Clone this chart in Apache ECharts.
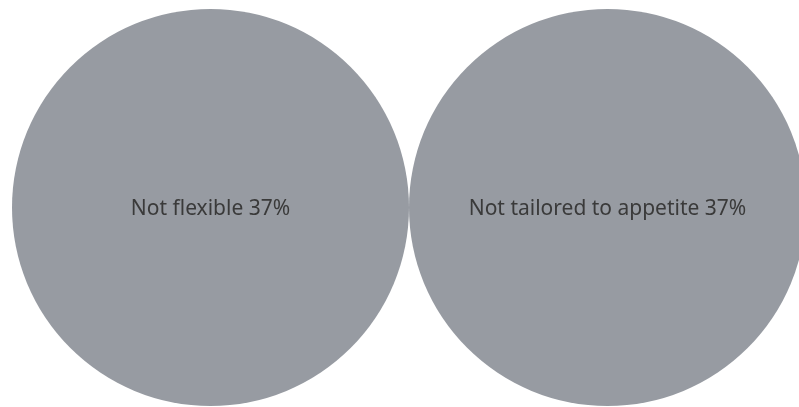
<!DOCTYPE html>
<html>
<head>
<meta charset="utf-8">
<style>
  html, body { margin: 0; padding: 0; background: #ffffff; overflow: hidden; }
  #chart { width: 799px; height: 407px; }
</style>
<script src="https://cdn.jsdelivr.net/npm/echarts@6/dist/echarts.min.js"></script>
</head>
<body>
<div id="chart"></div>
<script>
// Reasons and their shares (percent)
const categories = ['Not flexible', 'Not tailored to appetite'];
const shares = [37, 37];

// Bubble diameter in pixels per percentage point
const PX_PER_POINT = 397 / 37;

const chart = echarts.init(document.getElementById('chart'), null, { renderer: 'canvas' });

chart.setOption({
  animation: false,
  backgroundColor: '#ffffff',
  // The second bubble runs past the right edge, so the grid is allowed to as well
  grid: { left: 12, top: 9, width: 794, height: 397, containLabel: false, outerBoundsMode: 'none' },
  xAxis: {
    type: 'category',
    data: categories,
    boundaryGap: true,
    show: false
  },
  yAxis: { type: 'value', min: -1, max: 1, show: false },
  series: [{
    type: 'scatter',
    clip: false,
    data: categories.map((c, i) => ({ name: c, value: [c, 0, shares[i]] })),
    symbol: 'circle',
    symbolSize: v => v[2] * PX_PER_POINT,
    itemStyle: { color: '#979ba2', opacity: 1 },
    label: {
      show: true,
      position: 'inside',
      offset: [0, 2],
      formatter: p => p.name + ' ' + p.value[2] + '%',
      color: '#3a3a3a',
      fontFamily: 'Noto Sans',
      fontSize: 21
    },
    emphasis: { disabled: true }
  }]
});
</script>
</body>
</html>
